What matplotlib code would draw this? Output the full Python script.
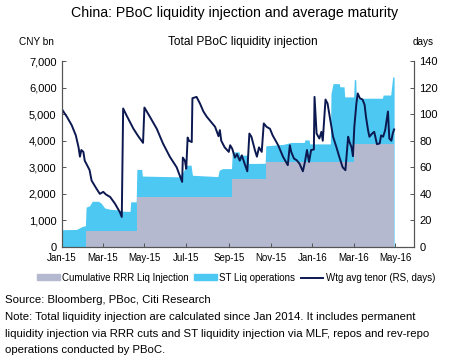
import numpy as np
import pandas as pd
import matplotlib
matplotlib.use('agg')
import matplotlib.pyplot as plt
import matplotlib.dates as mdates
from matplotlib.patches import Patch
from matplotlib.lines import Line2D

plt.rcParams['font.family'] = ['Liberation Sans', 'DejaVu Sans']

# < -- data (days counted from 1 Jan 2015)

start = pd.Timestamp('2015-01-01')

rrr_day = [0, 35, 109, 248, 297, 425, 484]
rrr_val = [0, 600, 1885, 2575, 3203, 3894, 3894]

# top of the stack (RRR + ST operations)
total_day = [0, 21, 30, 34, 35, 40, 44, 53, 57, 62, 70, 80, 88, 99, 100, 108, 109, 116, 117,
             170, 176, 181, 188, 190, 227, 229, 234, 247, 248, 258, 259, 271, 272, 296, 297,
             322, 334, 353, 354, 360, 361, 391, 392, 395, 404, 405, 411, 412, 425, 426, 428,
             429, 467, 468, 479, 482, 484]
total_val = [650, 660, 780, 800, 1500, 1550, 1720, 1720, 1650, 1470, 1420, 1400, 1350, 1340, 1700,
             1700, 2920, 2920, 2670, 2640, 2800, 3080, 3080, 2700, 2650, 2890, 2950, 2950, 3580,
             3580, 3455, 3455, 3143, 3150, 3808, 3860, 3935, 3935, 4030, 4030, 3880, 3880, 5780,
             6150, 6150, 6030, 6030, 5650, 5650, 6300, 6300, 5600, 5600, 5720, 5720, 6400, 6400]

tenor_day = [0, 7, 14, 20, 24, 26, 28, 31, 33, 40, 43, 50, 55, 60, 64, 70, 77, 84, 87, 89, 94, 99,
             104, 111, 118, 120, 128, 138, 147, 157, 167, 175, 176, 179, 181, 183, 185, 189, 190,
             196, 201, 206, 211, 215, 223, 228, 230, 232, 237, 243, 245, 248, 252, 255, 259, 262,
             266, 270, 273, 276, 281, 284, 287, 291, 294, 298, 303, 307, 315, 322, 329, 332, 334,
             338, 342, 346, 351, 354, 357, 360, 363, 367, 368, 371, 375, 378, 380, 384, 387, 391,
             395, 400, 404, 409, 413, 417, 419, 422, 424, 426, 429, 431, 434, 438, 441, 443, 446,
             448, 452, 455, 459, 463, 465, 468, 471, 475, 477, 480, 482, 484]
tenor_val = [103.5, 98, 91.7, 84, 75, 68, 73, 71.6, 65, 58, 50, 44, 40, 41.5, 39.5, 37.7, 32.7,
             26.4, 22.6, 104.3, 99, 94, 89, 83.4, 78.4, 105, 98, 89, 78, 68, 60, 49, 67.3, 65, 59,
             82.4, 80, 79, 112, 113, 108, 102, 98, 95.5, 90.5, 83.4, 88, 80, 75, 71.6, 76.6, 74,
             67.3, 70, 65, 69, 62.8, 57, 85.4, 83, 73, 68, 75, 71.6, 93, 90.5, 89, 84, 76.6, 68,
             61.6, 76.6, 71.6, 66.6, 65.3, 62.8, 57, 64, 73, 64, 73, 73.4, 113, 85.4, 81.7, 86.7,
             80, 111, 108, 95.5, 83, 75, 68, 60, 57.8, 83, 79, 75, 68.4, 90.5, 108, 115.6, 112,
             111, 107, 98, 88, 83, 85.4, 86.7, 77.4, 78, 84, 83, 88, 102, 81.7, 80, 85.4, 88.5]

left_ticks = [0, 1000, 2000, 3000, 4000, 5000, 6000, 7000]
right_ticks = [0, 20, 40, 60, 80, 100, 120, 140]

note_lines = ['Note: Total liquidity injection are calculated since Jan 2014. It includes permanent',
              'liquidity injection via RRR cuts and ST liquidity injection via MLF, repos and rev-repo',
              'operations conducted by PBoC.']

def to_dates(days):
    return start + pd.to_timedelta(days, unit='D')

grey = '#b4b9d0'
cyan = '#4cc8f2'
navy = '#0c1850'
spine_c = '#555555'

# < -- plot

fig = plt.figure(figsize=(4.5, 3.59), dpi=100)
ax = fig.add_axes([0.138, 0.312, 0.782, 0.518])

ax.fill_between(to_dates(total_day), 0, total_val, color=cyan, lw=0)
ax.fill_between(to_dates(rrr_day), 0, rrr_val, step='post', color=grey, lw=0)

ax.set_ylim(0, 7000)
ax.set_yticks(left_ticks)
ax.set_yticklabels(['{:,}'.format(v) for v in left_ticks])
ax.set_xlim(start, pd.Timestamp('2016-05-28'))
ax.xaxis.set_major_locator(mdates.MonthLocator(bymonth=[1, 3, 5, 7, 9, 11]))
ax.xaxis.set_major_formatter(mdates.DateFormatter('%b-%y'))

ax2 = ax.twinx()
ax2.plot(to_dates(tenor_day), tenor_val, color=navy, lw=1.4)
ax2.set_ylim(0, 140)
ax2.set_yticks(right_ticks)

for a in (ax, ax2):
    a.spines['top'].set_visible(False)
    for s in ('left', 'right', 'bottom'):
        a.spines[s].set_color(spine_c)
        a.spines[s].set_linewidth(0.8)
    a.tick_params(direction='in', length=3, width=0.7, color=spine_c, labelsize=8, pad=4)
ax.tick_params(axis='x', labelsize=7, pad=4)

fig.text(0.522, 0.964, 'China: PBoC liquidity injection and average maturity',
         ha='center', va='center', fontsize=10.2)
fig.text(0.54, 0.883, 'Total PBoC liquidity injection', ha='center', va='center', fontsize=8.6)
fig.text(0.08, 0.883, 'CNY bn', ha='center', va='center', fontsize=7.2)
fig.text(0.94, 0.883, 'days', ha='center', va='center', fontsize=7.2)

handles = [Patch(color=grey), Patch(color=cyan), Line2D([], [], color=navy, lw=1.4)]
labels = ['Cumulative RRR Liq Injection', 'ST Liq operations', 'Wtg avg tenor (RS, days)']
fig.legend(handles, labels, loc='center', bbox_to_anchor=(0.525, 0.226), ncol=3,
           frameon=False, fontsize=7, handlelength=2.3, handleheight=0.55,
           handletextpad=0.25, columnspacing=0.6, borderaxespad=0, borderpad=0)

fig.text(0.012, 0.164, 'Source: Bloomberg, PBoc, Citi Research', ha='left', va='center', fontsize=8.2)
for i, line in enumerate(note_lines):
    fig.text(0.012, 0.117 - i * 0.0465, line, ha='left', va='center', fontsize=8.2)

fig.savefig('out.png', dpi=100)
plt.close(fig)
